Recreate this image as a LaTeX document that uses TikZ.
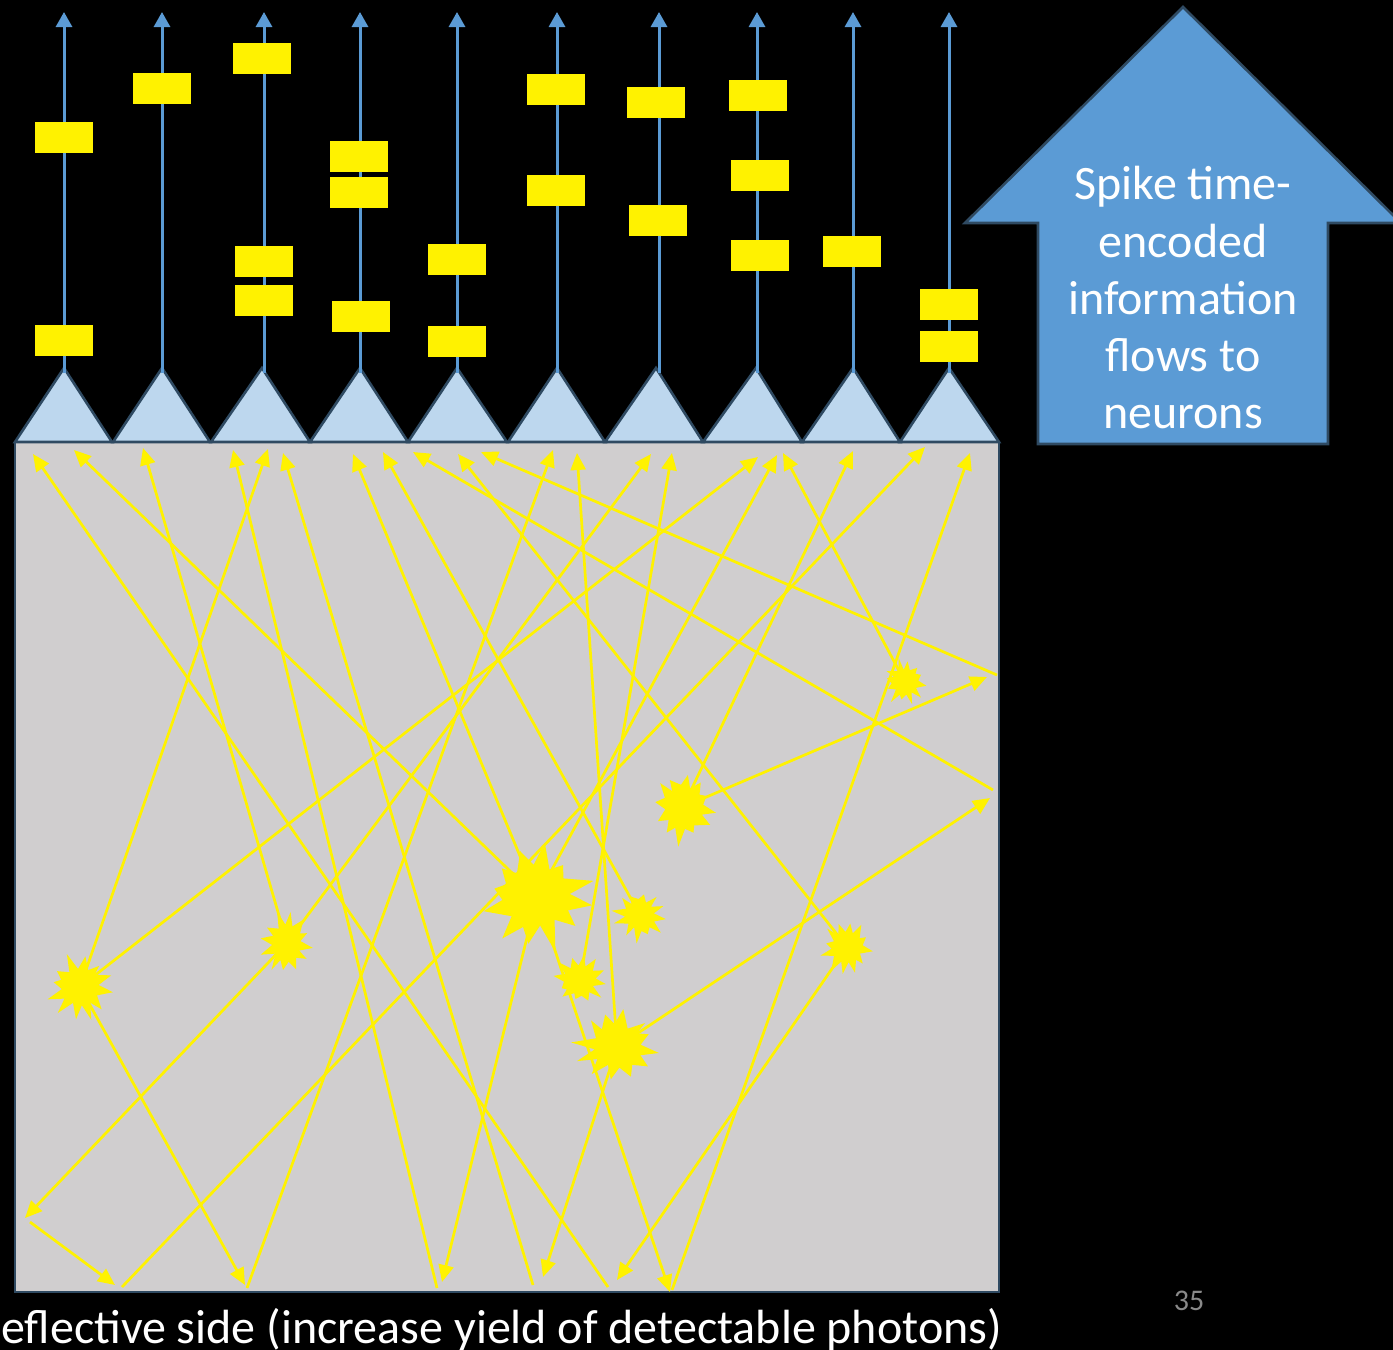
\documentclass[tikz,border=0pt]{standalone}
\usepackage{fontspec}
\setmainfont{Carlito}
\usetikzlibrary{arrows.meta}
\definecolor{boxgray}{HTML}{D0CECF}
\definecolor{edgeblue}{HTML}{2F4A62}
\definecolor{lightblue}{HTML}{BDD7EE}
\definecolor{midblue}{HTML}{5B9BD5}
\definecolor{numgray}{HTML}{898989}
% irregular scintillation flash: name, x, y, outer radius, vertical stretch, seed
\newcommand\flashevent[6]{%
  \pgfmathsetseed{#6}%
  \fill[yellow, shift={(#2,#3)}, yscale=#5] (9:#4*0.9)
    \foreach \k in {1,...,23} {
      -- ({\k*360/24+9}:{mod(\k,2)==0 ? #4*(0.66+0.34*rnd) : #4*(0.46+0.1*rnd)})
    } -- cycle;
  \coordinate (#1) at (#2,#3);
}
\begin{document}
\begin{tikzpicture}[x=1pt,y=-1pt,
  ray/.style={yellow, line width=2.7pt, -{Triangle[length=17pt,width=15pt]}},
  axon/.style={midblue, line width=3pt, -{Triangle[length=15pt,width=16pt]}},
  spike/.style={fill=yellow, draw=none},
  soma/.style={fill=lightblue, draw=edgeblue, line width=2.6pt, line join=miter},
  bigtext/.style={text=white, inner sep=0pt, anchor=base, font=\fontsize{48}{57}\selectfont},
]
% canvas
\fill[black] (0,0) rectangle (1393,1350);
\useasboundingbox (0,0) rectangle (1393,1350);

% scintillator volume
\draw[fill=boxgray, draw=edgeblue, line width=2.6pt] (15,442) rectangle (999,1292);

% photodetectors with their output lines
\foreach \l/\a/\r/\ax [count=\i] in {15/64/112/64, 113/162/210/162, 211/262/310/264,
    310/360/408/360, 408/457/507/457, 508/557/605/557, 605/656/703/659,
    703/756/802/757, 802/853/900/853, 900/949/999/949} {
  \draw[soma] (\l,442) -- (\a,368) -- (\r,442) -- cycle;
  \coordinate (apex\i) at (\ax,373);
  \coordinate (out\i) at (\ax,12);
  \draw[axon] (apex\i) -- (out\i);
}

% spikes on the output lines
\foreach \x/\y in {35/122, 35/325, 133/73, 233/43, 235/246, 235/285,
    330/141, 330/177, 332/301, 428/244, 428/326, 527/74, 527/175,
    627/87, 629/205, 729/80, 731/160, 731/240, 823/236, 920/289, 920/331} {
  \fill[spike] (\x,\y) rectangle ++(58,31);
}

% information flow arrow
\draw[fill=midblue, draw=edgeblue, line width=2.6pt, line join=miter]
  (1038,444) -- (1038,223) -- (965,223) -- (1183,7) -- (1401,223)
  -- (1328,223) -- (1328,444) -- cycle;
\node[bigtext] (flow1) at (1183,199) {Spike time-};
\node[bigtext] (flow2) at (1183,257) {encoded};
\node[bigtext] (flow3) at (1183,314) {information};
\node[bigtext] (flow4) at (1183,371) {flows to};
\node[bigtext] (flow5) at (1183,428) {neurons};

% scintillation events
\flashevent{burst1}{537}{897}{62}{0.95}{7}
\flashevent{burst2}{683}{807}{37}{1.1}{12}
\flashevent{burst3}{905}{682}{24}{1.1}{21}
\flashevent{burst4}{640}{915}{29}{1.0}{33}
\flashevent{burst5}{847}{947}{29}{1.05}{44}
\flashevent{burst6}{580}{980}{29}{1.0}{55}
\flashevent{burst7}{617}{1047}{47}{0.9}{66}
\flashevent{burst8}{80}{987}{37}{1.0}{77}
\flashevent{burst9}{287}{943}{29}{1.2}{88}

% photon end points at the detectors
\coordinate (t33) at (33,454);   \coordinate (t74) at (74,450);
\coordinate (t143) at (143,448); \coordinate (t233) at (233,450);
\coordinate (t268) at (268,449); \coordinate (t283) at (283,453);
\coordinate (t353) at (353,454); \coordinate (t383) at (383,452);
\coordinate (t413) at (413,452); \coordinate (t458) at (458,454);
\coordinate (t481) at (481,452); \coordinate (t553) at (553,450);
\coordinate (t577) at (577,453); \coordinate (t651) at (651,454);
\coordinate (t672) at (672,453); \coordinate (t758) at (758,457);
\coordinate (t777) at (777,455); \coordinate (t783) at (783,453);
\coordinate (t853) at (853,451); \coordinate (t925) at (925,447);
\coordinate (t970) at (970,453);
% reflection points on the walls
\coordinate (wl) at (25,1218);   \coordinate (wlo) at (30,1222);
\coordinate (wb1) at (115,1285); \coordinate (wb1o) at (122,1287);
\coordinate (wb2) at (245,1285); \coordinate (wb2o) at (247,1288);
\coordinate (wb3) at (442,1282); \coordinate (wb3o) at (437,1288);
\coordinate (wb4) at (543,1277); \coordinate (wb4o) at (533,1285);
\coordinate (wb5) at (617,1280); \coordinate (wb5o) at (608,1287);
\coordinate (wb6) at (670,1292); \coordinate (wb6o) at (672,1290);
\coordinate (wr1) at (987,677);  \coordinate (wr1o) at (997,675);
\coordinate (wr2) at (990,798);  \coordinate (wr2o) at (993,790);

% photon paths
\draw[ray] (burst1) -- (t74);
\draw[ray] (burst1) -- (t353);
\draw[ray] (burst1) -- (t777);
\draw[ray] (burst1) -- (wb3);
\draw[ray] (wb3o) -- (t233);
\draw[ray] (burst1) -- (wb6);
\draw[ray] (wb6o) -- (t970);
\draw[ray] (burst2) -- (t853);
\draw[ray] (burst2) -- (wr1);
\draw[ray] (wr1o) -- (t481);
\draw[ray] (burst3) -- (t783);
\draw[ray] (burst4) -- (t383);
\draw[ray] (burst5) -- (t458);
\draw[ray] (burst5) -- (wb5);
\draw[ray] (wb5o) -- (t33);
\draw[ray] (burst6) -- (t672);
\draw[ray] (burst7) -- (t577);
\draw[ray] (burst7) -- (wr2);
\draw[ray] (wr2o) -- (t413);
\draw[ray] (burst7) -- (wb4);
\draw[ray] (wb4o) -- (t283);
\draw[ray] (burst8) -- (t268);
\draw[ray] (burst8) -- (t758);
\draw[ray] (burst8) -- (wb2);
\draw[ray] (wb2o) -- (t553);
\draw[ray] (burst9) -- (t143);
\draw[ray] (burst9) -- (t651);
\draw[ray] (burst9) -- (wl);
\draw[ray] (wlo) -- (wb1);
\draw[ray] (wb1o) -- (t925);

% caption and page number
\node[text=white, inner sep=0pt, anchor=base west, font=\fontsize{48}{57}\selectfont] (caption) at (1,1343)
  {eflective side (increase yield of detectable photons)};
\node[text=numgray, inner sep=0pt, anchor=base, font=\fontsize{30}{36}\selectfont] (pagenum) at (1189,1310) {35};
\end{tikzpicture}
\end{document}
